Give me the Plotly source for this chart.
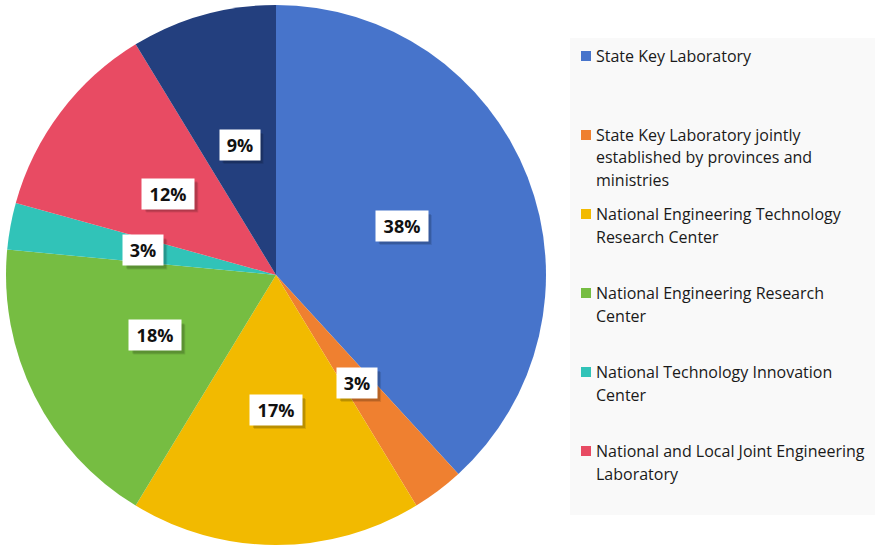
import math
import plotly.graph_objects as go

categories = [
    "State Key Laboratory",
    "State Key Laboratory jointly established by provinces and ministries",
    "National Engineering Technology Research Center",
    "National Engineering Research Center",
    "National Technology Innovation Center",
    "National and Local Joint Engineering Laboratory",
    "Other",
]
values = [38.2, 3.1, 17.4, 17.8, 2.8, 12.0, 8.7]
label_text = ["38%", "3%", "17%", "18%", "3%", "12%", "9%"]
legend_lines = [
    ["State Key Laboratory"],
    ["State Key Laboratory jointly", "established by provinces and", "ministries"],
    ["National Engineering Technology", "Research Center"],
    ["National Engineering Research", "Center"],
    ["National Technology Innovation", "Center"],
    ["National and Local Joint Engineering", "Laboratory"],
]
colors = ["#4774CB", "#EF8030", "#F2BA00", "#76BD42", "#31C3B8", "#E84B63", "#233F7E"]

W, H = 875, 545
FONT = "Open Sans"
dom_x = [6 / W, 546 / W]
dom_y = [0.0, 0.991]

fig = go.Figure(go.Pie(
    labels=categories, values=values, sort=False, direction="clockwise", rotation=0,
    marker=dict(colors=colors, line=dict(width=0)),
    textinfo="none", hoverinfo="label+percent", showlegend=False,
    domain=dict(x=dom_x, y=dom_y),
))

# geometry of pie in pixels
cx = (dom_x[0] + dom_x[1]) / 2 * W
cy = H * (1 - (dom_y[0] + dom_y[1]) / 2)
R = min((dom_x[1] - dom_x[0]) * W, (dom_y[1] - dom_y[0]) * H) / 2

annotations = []
shapes = []
total = sum(values)
cum = 0.0
PAD = 6
BH = 18
for v, t in zip(values, label_text):
    mid = (cum + v / 2) / total * 2 * math.pi
    cum += v
    r = 0.5 * R
    px = cx + r * math.sin(mid)
    py = cy - r * math.cos(mid)
    w = 40 if len(t) == 3 else 28
    bw = w + 2 * PAD
    bh = BH + 2 * PAD
    # soft shadow
    for k, a in ((4, 0.10), (3, 0.14)):
        shapes.append(dict(type="rect", xref="paper", yref="paper", layer="above",
                           x0=(px - bw / 2 + k) / W, x1=(px + bw / 2 + k) / W,
                           y0=1 - (py + bh / 2 + k) / H, y1=1 - (py - bh / 2 + k) / H,
                           fillcolor=f"rgba(0,0,0,{a})", line=dict(width=0)))
    annotations.append(dict(text="<b>" + t + "</b>", x=px / W, y=1 - py / H,
                            xref="paper", yref="paper", showarrow=False,
                            width=w, height=BH, borderpad=PAD, xanchor="center", yanchor="middle",
                            font=dict(size=18, color="#111111", family=FONT),
                            bgcolor="white"))

# custom legend
shapes.append(dict(type="rect", xref="paper", yref="paper", x0=570 / W, x1=1.0,
                   y0=1 - 515 / H, y1=1 - 38 / H, fillcolor="#F9F9F9", line=dict(width=0), layer="below"))
entry_y0 = 56
entry_gap = 79
line_gap = 22.5
for i, lines in enumerate(legend_lines):
    y = entry_y0 + i * entry_gap
    shapes.append(dict(type="rect", xref="paper", yref="paper",
                       x0=581 / W, x1=591 / W, y0=1 - (y + 5) / H, y1=1 - (y - 5) / H,
                       fillcolor=colors[i], line=dict(width=0)))
    for j, ln in enumerate(lines):
        annotations.append(dict(text=ln, x=594 / W, y=1 - (y + j * line_gap) / H,
                                xref="paper", yref="paper", showarrow=False,
                                xanchor="left", yanchor="middle",
                                font=dict(size=16, color="#1a1a1a", family=FONT)))

fig.update_layout(
    width=W, height=H, margin=dict(l=0, r=0, t=0, b=0),
    paper_bgcolor="white", plot_bgcolor="white",
    annotations=annotations, shapes=shapes, showlegend=False,
)
fig.write_html("out.html", config={"displayModeBar": False},
               post_script=["document.body.style.margin='0';"])
